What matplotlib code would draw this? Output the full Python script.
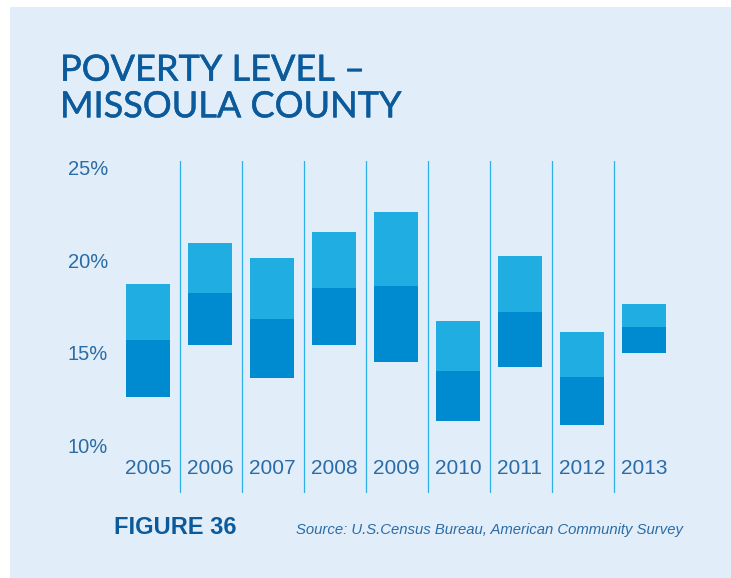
import matplotlib
matplotlib.use("Agg")
import matplotlib.pyplot as plt
import matplotlib.patheffects as pe
from matplotlib import font_manager
from matplotlib.patches import Rectangle

# poverty rate estimate with lower / upper bound of the margin of error (%)
years = ['2005', '2006', '2007', '2008', '2009', '2010', '2011', '2012', '2013']
low = [12.6, 15.4, 13.6, 15.4, 14.5, 11.3, 14.2, 11.1, 15.0]
est = [15.7, 18.2, 16.8, 18.5, 18.6, 14.0, 17.2, 13.7, 16.4]
high = [18.7, 20.9, 20.1, 21.5, 22.6, 16.7, 20.2, 16.1, 17.6]
yticks = [10, 15, 20, 25]
ytick_labels = ['10%', '15%', '20%', '25%']

BG = '#E1EEF9'
TITLE = '#0B5A9B'
TEXT = '#2B6BA6'
LIGHT = '#1FADE2'
DARK = '#008BD1'
RULE = '#2CB0E6'

installed = {f.name for f in font_manager.fontManager.ttflist}
def pick(*names):
    for n in names:
        if n in installed:
            return n
    return 'DejaVu Sans'

plain = pick('Liberation Sans', 'DejaVu Sans')
head = pick('Lato', 'Open Sans', 'Noto Sans')

W, H = 731, 578
fig = plt.figure(figsize=(W / 100, H / 100), dpi=100, facecolor='white')
fig.patches.append(Rectangle((10 / W, 0), 1, 1 - 7 / H, transform=fig.transFigure,
                             facecolor=BG, edgecolor='none', zorder=-1))

ax = fig.add_axes([55 / W, 85 / H, 651 / W, 332 / H])
ax.set_facecolor('none')
x = list(range(len(years)))
ax.bar(x, [e - l for e, l in zip(est, low)], bottom=low, width=0.72, color=DARK, zorder=2)
ax.bar(x, [h - e for h, e in zip(high, est)], bottom=est, width=0.72, color=LIGHT, zorder=2)
for i in x[:-1]:
    ax.axvline(i + 0.52, color=RULE, lw=0.9, zorder=1)

ax.set_xlim(-1.5, 9.0)
ax.set_ylim(7.41, 25.35)
for s in ax.spines.values():
    s.set_visible(False)

ax.set_yticks(yticks, ytick_labels)
ax.tick_params(axis='y', length=0, pad=-38.2, labelcolor=TEXT, labelsize=14.5)
for t in ax.get_yticklabels():
    t.set_fontfamily(plain)

ax.set_xticks(x, years)
ax.tick_params(axis='x', length=0, pad=-24.5, labelcolor=TEXT, labelsize=15)
for t in ax.get_xticklabels():
    t.set_fontfamily(plain)

# medium-weight heading: regular face thickened with a thin outline
thick = [pe.withStroke(linewidth=0.35, foreground=TITLE)]
fig.text(60 / W, 1 - 80.7 / H, 'POVERTY LEVEL –', family=head, fontsize=26,
         color=TITLE, va='baseline', ha='left', path_effects=thick)
fig.text(60 / W, 1 - 117.3 / H, 'MISSOULA COUNTY', family=head, fontsize=26,
         color=TITLE, va='baseline', ha='left', path_effects=thick)

fig.text(114 / W, 1 - 534.3 / H, 'FIGURE 36', family=plain, fontweight='bold',
         fontsize=17, color=TITLE, va='baseline', ha='left')
fig.text(683 / W, 1 - 534.3 / H, 'Source: U.S.Census Bureau, American Community Survey',
         family=plain, style='italic', fontsize=10.7, color=TEXT,
         va='baseline', ha='right')

fig.savefig('out.png', dpi=100, facecolor='white')
